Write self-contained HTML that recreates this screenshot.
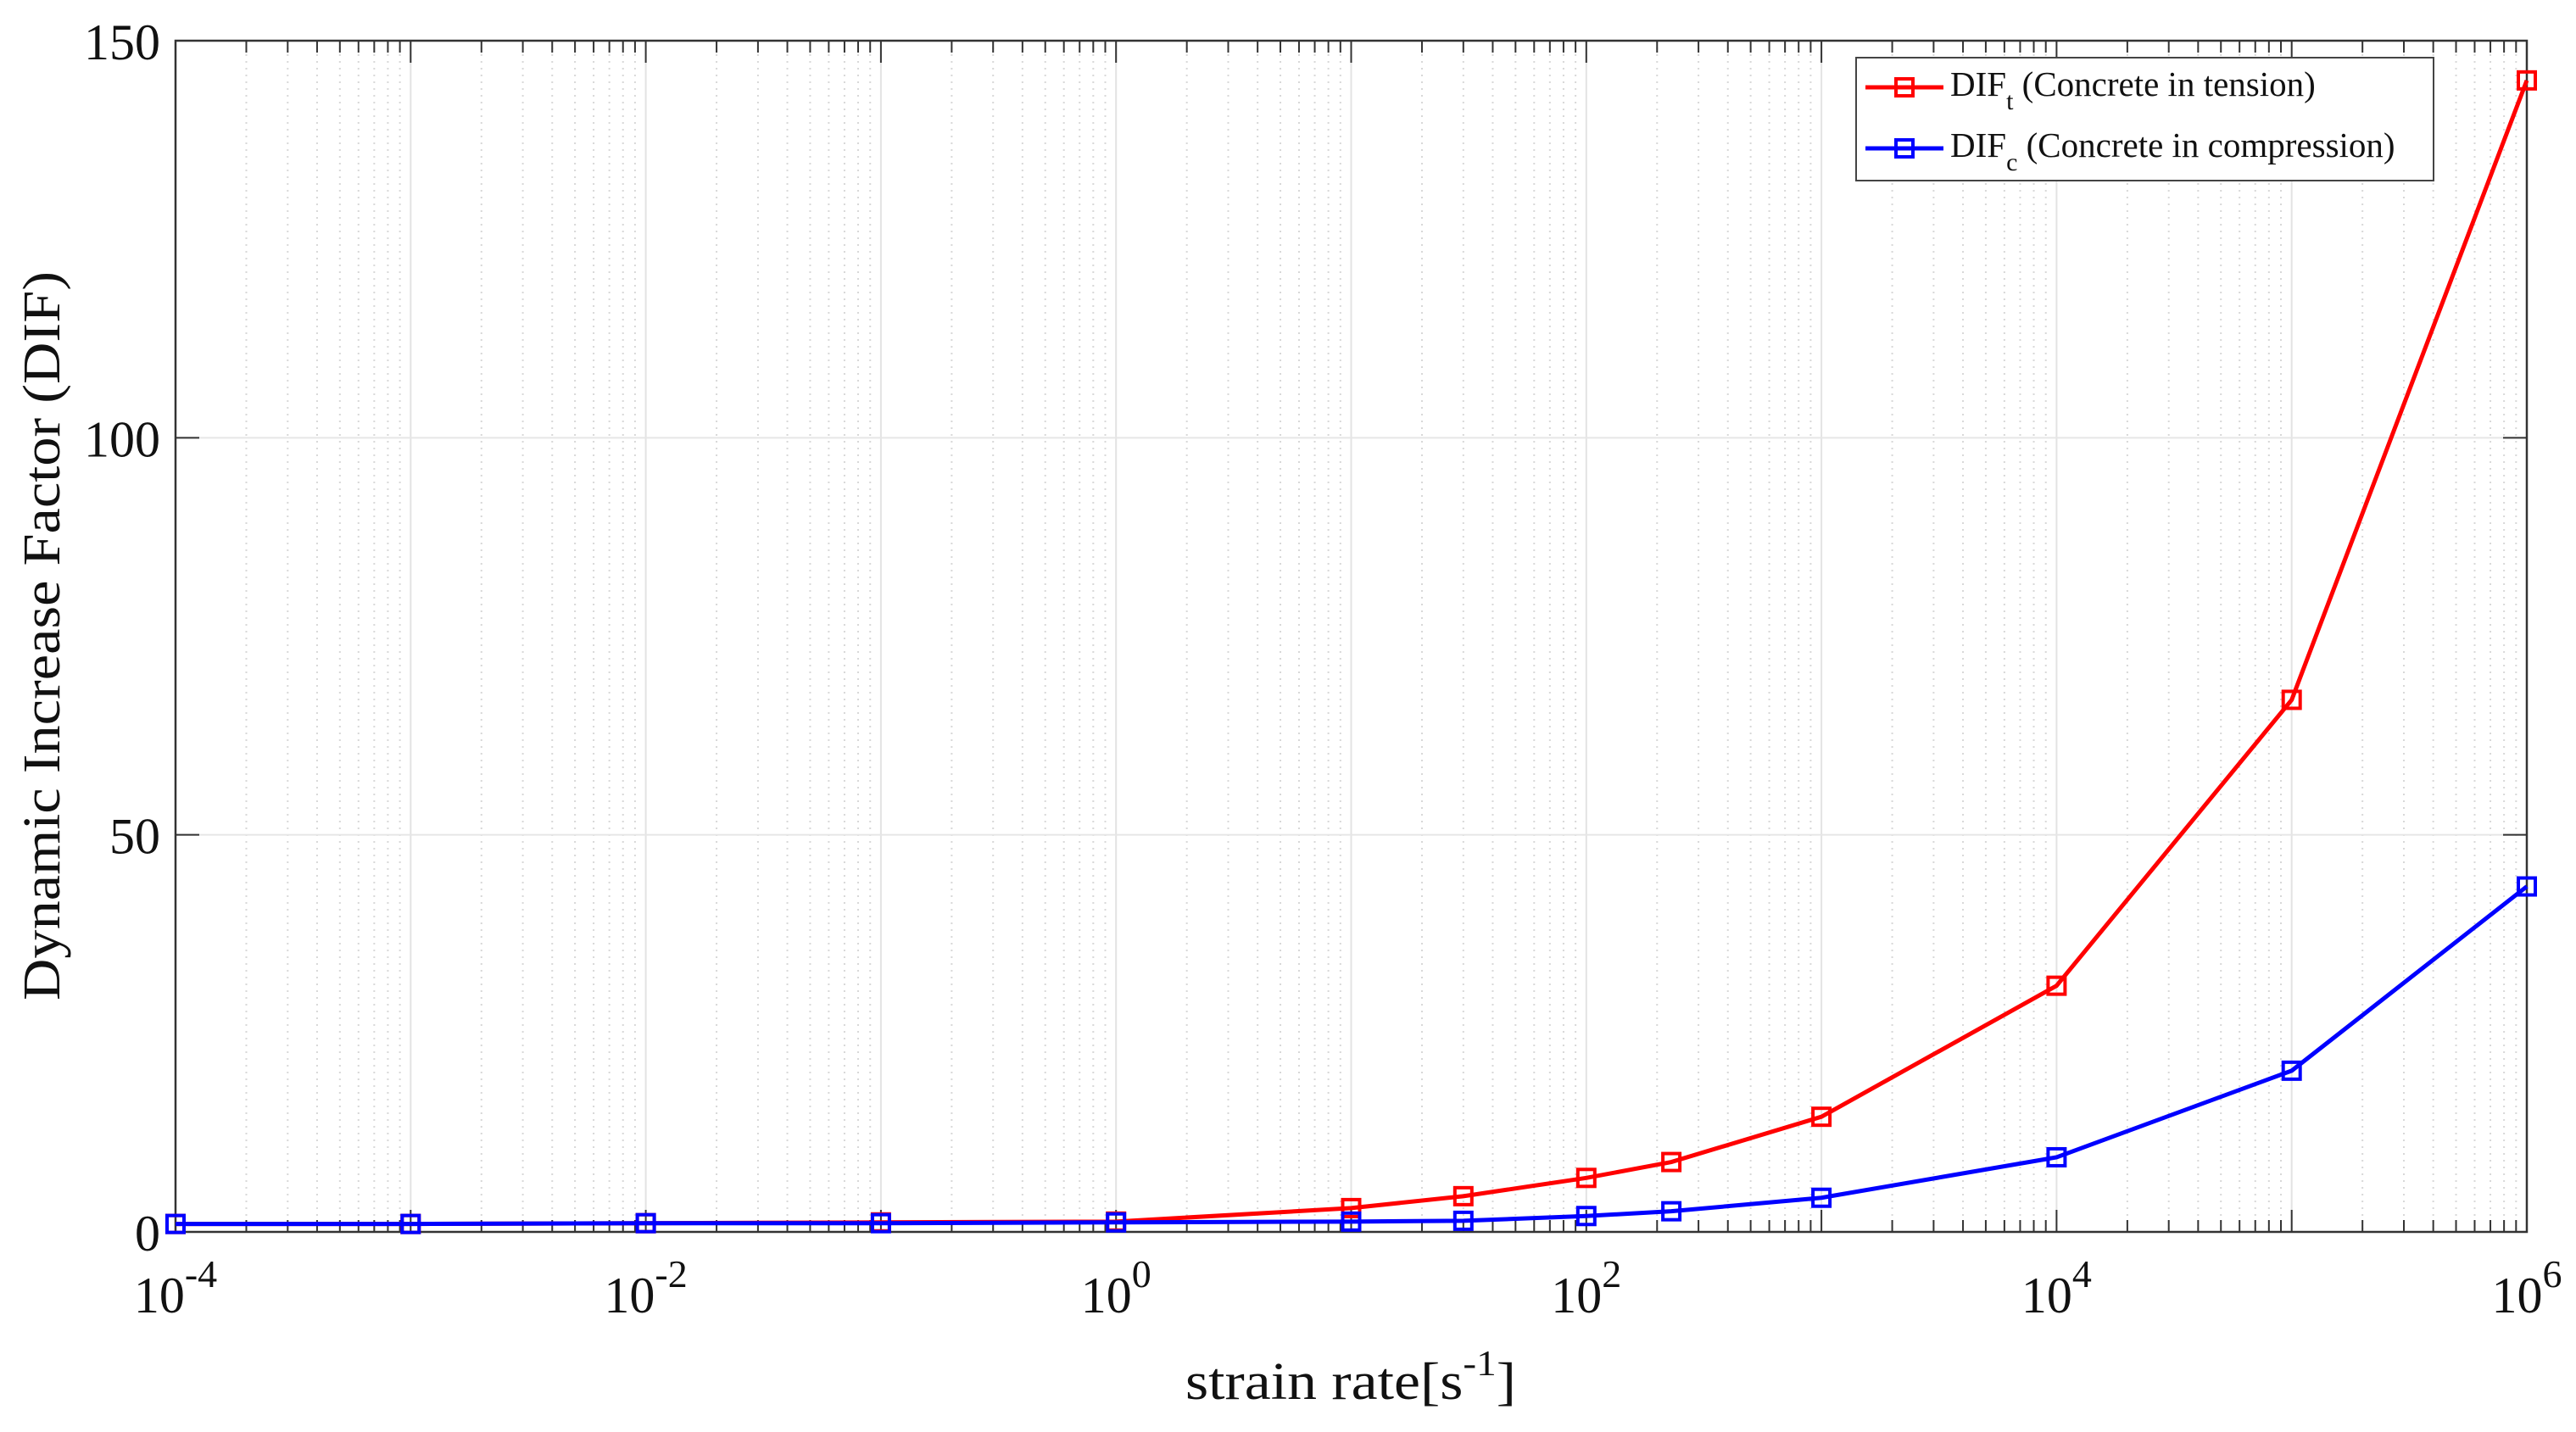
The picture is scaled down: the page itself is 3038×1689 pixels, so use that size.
<!DOCTYPE html>
<html><head><meta charset="utf-8"><style>
html,body{margin:0;padding:0;background:#fff;}
svg{display:block;font-family:"Liberation Serif",serif;}
</style></head><body>
<svg id="chart" width="3038" height="1689" viewBox="0 0 3038 1689" xmlns="http://www.w3.org/2000/svg">
<g id="grid"></g>
<g id="axes"></g>
<g id="series"></g>
<text x="0" y="0" transform="translate(70,750) rotate(-90)" text-anchor="middle" font-size="62" textLength="860" lengthAdjust="spacingAndGlyphs" fill="#111">Dynamic Increase Factor (DIF)</text>
<text x="1398" y="1650" font-size="62" fill="#111" textLength="390" lengthAdjust="spacingAndGlyphs">strain rate[s<tspan dy="-28" font-size="42">-1</tspan><tspan dy="28">]</tspan></text>
<g>
<rect x="2189" y="68" width="681" height="145" fill="#fff" stroke="#444" stroke-width="2"/>
<line x1="2200" y1="103" x2="2292" y2="103" stroke="#ff0000" stroke-width="5"/>
<rect x="2236" y="93" width="20" height="20" fill="none" stroke="#ff0000" stroke-width="4"/>
<text x="2300" y="113" font-size="41" fill="#111">DIF<tspan dy="16" font-size="30">t</tspan><tspan dy="-16"> (Concrete in tension)</tspan></text>
<line x1="2200" y1="175" x2="2292" y2="175" stroke="#0000ff" stroke-width="5"/>
<rect x="2236" y="165" width="20" height="20" fill="none" stroke="#0000ff" stroke-width="4"/>
<text x="2300" y="185" font-size="41" fill="#111">DIF<tspan dy="16" font-size="30">c</tspan><tspan dy="-16"> (Concrete in compression)</tspan></text>
</g>
</svg>
<script>
const strainRates = [1e-4, 1e-3, 1e-2, 1e-1, 1, 10, 30, 100, 230, 1000, 1e4, 1e5, 1e6];
const difTension = [1.0, 1.0, 1.1, 1.2, 1.3, 3.0, 4.5, 6.8, 8.8, 14.5, 31, 67, 145];
const difCompression = [1.0, 1.0, 1.1, 1.1, 1.2, 1.3, 1.4, 2.0, 2.6, 4.3, 9.4, 20.3, 43.5];
const xDecades = [-4, -3, -2, -1, 0, 1, 2, 3, 4, 5, 6];
const xLabelExps = [-4, -2, 0, 2, 4, 6];
const yTicks = [0, 50, 100, 150];

const NS = "http://www.w3.org/2000/svg";
const L = 207, R = 2980, T = 48, B = 1453;
const xMin = -4, xMax = 6, yMin = 0, yMax = 150;
function xs(v){ return L + (Math.log10(v) - xMin) / (xMax - xMin) * (R - L); }
function ys(v){ return B - (v - yMin) / (yMax - yMin) * (B - T); }
function mk(tag, attrs, parent){
  const e = document.createElementNS(NS, tag);
  for (const k in attrs) e.setAttribute(k, attrs[k]);
  parent.appendChild(e); return e;
}
const grid = document.getElementById('grid');
const axes = document.getElementById('axes');
const series = document.getElementById('series');

xDecades.forEach(function(d){
  for (let m = 1; m <= 9; m++) {
    if (d === xMax && m > 1) break;
    const x = xs(m * Math.pow(10, d));
    const g = mk('line', {x1:x, y1:T, x2:x, y2:B, stroke: m===1 ? '#e3e3e3' : '#d8d8d8', 'stroke-width':2, 'stroke-dasharray': m===1 ? 'none' : '2 6'}, grid);
    
    
    const len = m === 1 ? 26 : 14;
    const t1 = mk('line', {x1:x, y1:B, x2:x, y2:B-len, stroke:'#333', 'stroke-width':2}, axes);
    
    
    const t2 = mk('line', {x1:x, y1:T, x2:x, y2:T+len, stroke:'#333', 'stroke-width':2}, axes);
    
    
  }
});
yTicks.forEach(function(v){
  const y = ys(v);
  const g = mk('line', {x1:L, y1:y, x2:R, y2:y, stroke:'#e6e6e6', 'stroke-width':2}, grid);
  
  
  const t1 = mk('line', {x1:L, y1:y, x2:L+28, y2:y, stroke:'#333', 'stroke-width':2}, axes);
  
  
  const t2 = mk('line', {x1:R, y1:y, x2:R-28, y2:y, stroke:'#333', 'stroke-width':2}, axes);
  
  
  const lab = mk('text', {x:L-18, y:y+22, 'text-anchor':'end', 'font-size':60, fill:'#111'}, axes);
  
  
  lab.textContent = String(v);
});
xLabelExps.forEach(function(e){
  const x = xs(Math.pow(10, e));
  const lab = mk('text', {x:x, y:1548, 'text-anchor':'middle', 'font-size':60, fill:'#111'}, axes);
  
  
  const base = mk('tspan', {}, lab);
  base.textContent = '10';
  const sup = mk('tspan', {dy:-30, 'font-size':46}, lab);
  sup.textContent = String(e);
});
const frame = mk('rect', {x:L, y:T, width:R-L, height:B-T, fill:'none', stroke:'#333', 'stroke-width':2.5}, axes);



function drawSeries(vals, color, name){
  const pts = strainRates.map(function(x, i){ return xs(x) + ',' + ys(vals[i]); }).join(' ');
  const pl = mk('polyline', {points:pts, fill:'none', stroke:color, 'stroke-width':5}, series);
  
  
  strainRates.forEach(function(x, i){
    const r = mk('rect', {x:xs(x)-10, y:ys(vals[i])-10, width:20, height:20, fill:'none', stroke:color, 'stroke-width':4}, series);
    
    
  });
}
drawSeries(difTension, '#ff0000', 'tension');
drawSeries(difCompression, '#0000ff', 'compression');
</script>
</body></html>
